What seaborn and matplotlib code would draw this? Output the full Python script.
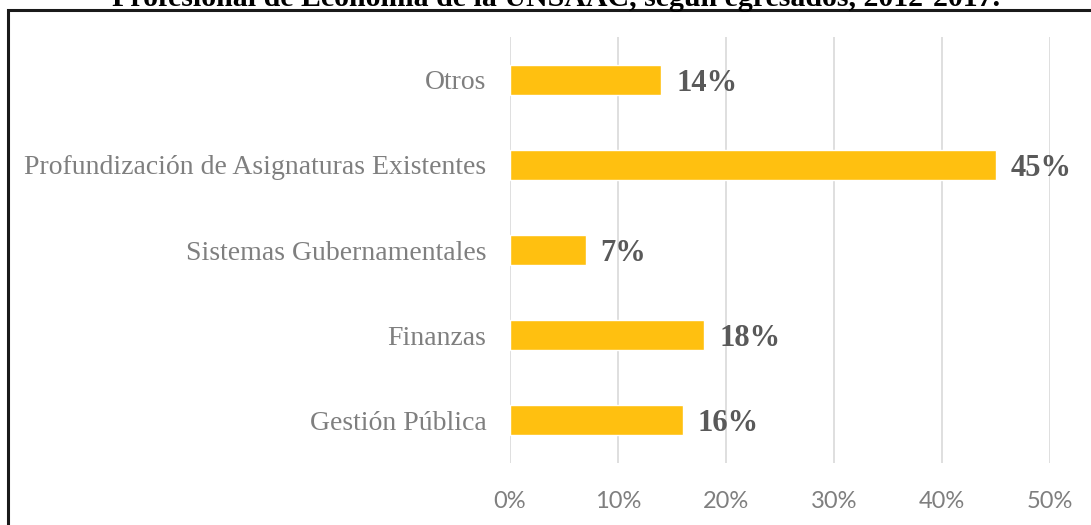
import matplotlib
matplotlib.use("Agg")
import matplotlib.pyplot as plt
from matplotlib.patches import Rectangle
from matplotlib.ticker import PercentFormatter
import seaborn as sns
import pandas as pd

categories = ["Otros", "Profundización de Asignaturas Existentes",
              "Sistemas Gubernamentales", "Finanzas", "Gestión Pública"]
values = [0.14, 0.45, 0.07, 0.18, 0.16]
labels = ["14%", "45%", "7%", "18%", "16%"]
title = "Profesional de Economía de la UNSAAC, según egresados, 2012-2017."

df = pd.DataFrame({"categoria": categories, "valor": values})

sns.set_theme(style="white")
plt.rcParams["font.family"] = ["Liberation Serif", "DejaVu Serif"]

fig = plt.figure(figsize=(10.91, 5.25), dpi=100)
ax = fig.add_axes([510 / 1091, 1 - 463 / 525, 540 / 1091, 426 / 525])

sns.barplot(data=df, x="valor", y="categoria", color="#FFC010",
            saturation=1, width=0.35, ax=ax, orient="h")

ax.set_xlim(0, 0.5)
ax.set_ylim(4.5, -0.5)
ax.xaxis.set_major_formatter(PercentFormatter(1.0, decimals=0))
ax.set_xticks([0, 0.1, 0.2, 0.3, 0.4, 0.5])
ax.grid(axis="x", color="#D9D9D9", linewidth=1.2)
ax.set_axisbelow(True)
for s in ax.spines.values():
    s.set_visible(False)
ax.set_xlabel("")
ax.set_ylabel("")
ax.tick_params(axis="both", length=0)
ax.tick_params(axis="x", pad=20)
ax.tick_params(axis="y", pad=17)

for t in ax.get_xticklabels():
    t.set_fontfamily("Lato")
    t.set_fontsize(17)
    t.set_color("#7F7F7F")
for t in ax.get_yticklabels():
    t.set_fontsize(20)
    t.set_color("#7F7F7F")

for i, (v, lab) in enumerate(zip(values, labels)):
    ax.text(v + 0.014, i + 0.04, lab, va="center", ha="left", fontsize=22,
            fontweight="bold", color="#595959")

fig.patches.append(Rectangle((8 / 1091, -0.1), 1.2, 1.1 - 10 / 525,
                             transform=fig.transFigure, fill=False,
                             edgecolor="#1a1a1a", linewidth=2.2))
fig.text(556 / 1091, 1 - 6 / 525, title, ha="center", va="baseline",
         fontsize=21.5, fontweight="bold", color="#000000")

fig.savefig("out.png", dpi=100)
